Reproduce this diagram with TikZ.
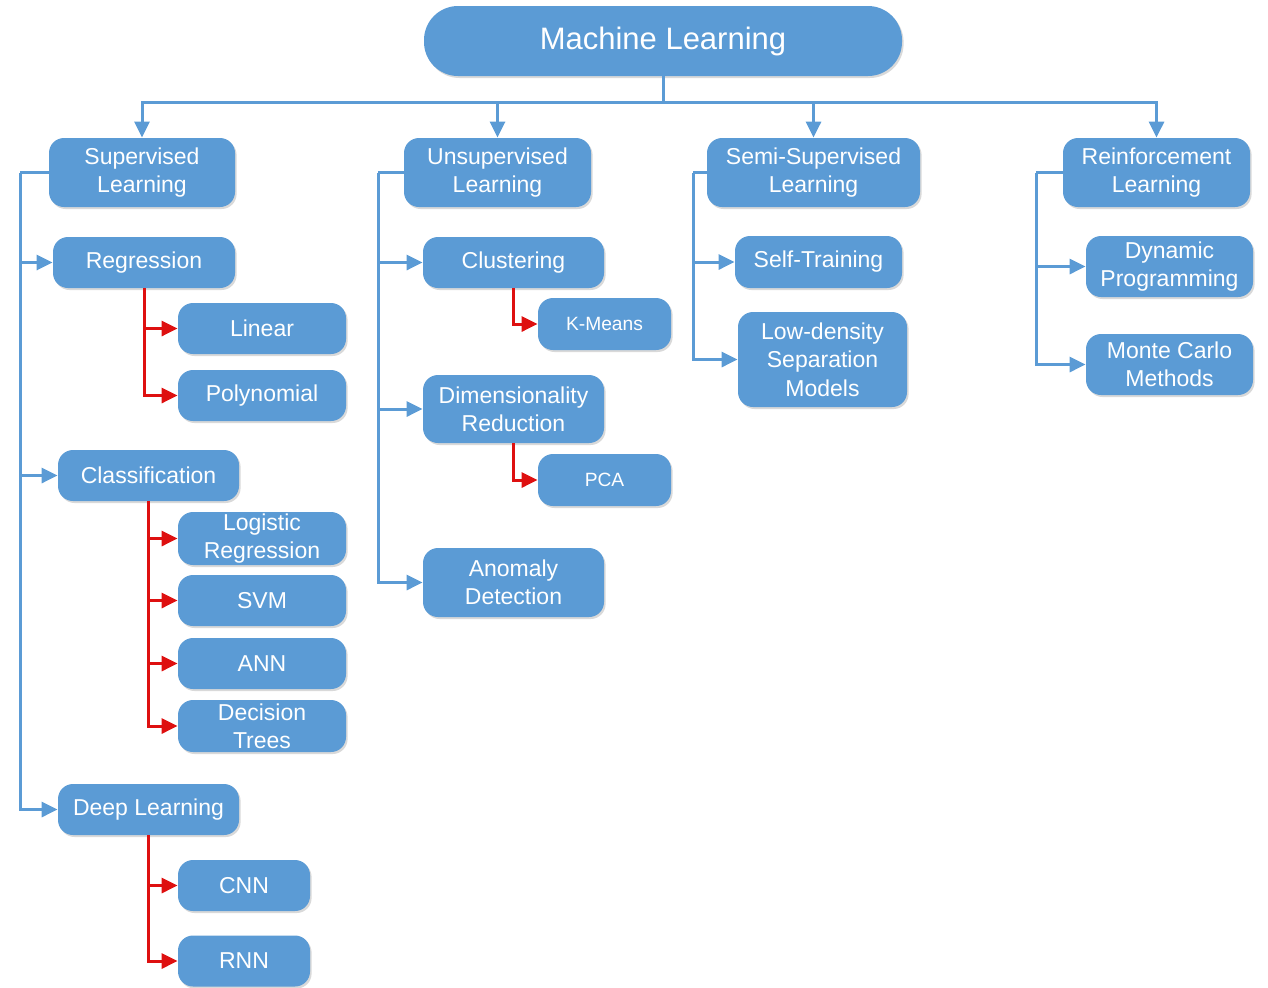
\documentclass[tikz,border=0pt]{standalone}
\usepackage{fontspec}
\setmainfont{Liberation Sans}
\usetikzlibrary{arrows.meta,shadows}
\definecolor{mlblue}{RGB}{91,155,213}
\definecolor{mlred}{RGB}{222,16,16}

\begin{document}
\begin{tikzpicture}[x=0.5pt, y=-0.5pt,
  box/.style={fill=mlblue, text=white, rounded corners=7.5pt, inner sep=0pt, align=center,
    font=\fontsize{11.5}{14.2}\selectfont,
    drop shadow={shadow xshift=0.8pt, shadow yshift=-1pt, opacity=0.25, fill=black!60}},
  wh/.style 2 args={minimum width=#1pt, minimum height=#2pt},
  small/.style={font=\fontsize{9.6}{12}\selectfont},
  bline/.style={draw=mlblue, line width=1.5pt},
  barrow/.style={bline, -{Triangle[length=8pt, width=7.5pt]}},
  rarrow/.style={draw=mlred, line width=1.5pt, -{Triangle[length=8pt, width=7.5pt]}}]
\useasboundingbox (0,0) rectangle (1268,987);

\node[box, wh={239}{35}, rounded corners=17pt, font=\fontsize{15.5}{18}\selectfont] (ml) at (663,41) {Machine Learning};

\node[box, wh={93}{34.5}] (sup) at (142,172.5) {Supervised\\Learning};
\node[box, wh={93.5}{34.5}] (unsup) at (497.5,172.5) {Unsupervised\\Learning};
\node[box, wh={106.5}{34.5}] (semi) at (813.5,172.5) {Semi-Supervised\\Learning};
\node[box, wh={93.5}{34.5}] (rein) at (1156.5,172.5) {Reinforcement\\Learning};

\node[box, wh={91}{25.5}] (regr) at (144,262.5) {Regression};
\node[box, wh={84}{25.5}] (lin) at (262,328.5) {Linear};
\node[box, wh={84}{25.5}] (poly) at (262,395.5) {Polynomial};
\node[box, wh={90.5}{25.5}] (clas) at (148.5,475.5) {Classification};
\node[box, wh={84}{26.5}] (logr) at (262,538.5) {Logistic\\Regression};
\node[box, wh={84}{25.5}] (svm) at (262,600.5) {SVM};
\node[box, wh={84}{25.5}] (ann) at (262,663.5) {ANN};
\node[box, wh={84}{26}] (dtree) at (262,726) {Decision\\Trees};
\node[box, wh={90.5}{25.5}] (deep) at (148.5,809.5) {Deep Learning};
\node[box, wh={66}{25.5}] (cnn) at (244,885.5) {CNN};
\node[box, wh={66}{25.5}] (rnn) at (244,961) {RNN};

\node[box, wh={90.5}{25.5}] (clus) at (513.5,262.5) {Clustering};
\node[box, small, wh={66.5}{26}] (kmeans) at (604.5,324) {K-Means};
\node[box, wh={90.5}{34}] (dimred) at (513.5,409) {Dimensionality\\Reduction};
\node[box, small, wh={66.5}{26}] (pca) at (604.5,480) {PCA};
\node[box, wh={90.5}{34.5}] (anom) at (513.5,582.5) {Anomaly\\Detection};

\node[box, wh={83.5}{26}] (self) at (818.5,262) {Self-Training};
\node[box, wh={84.5}{47.5}] (lowd) at (822.5,359.5) {Low-density\\Separation\\Models};

\node[box, wh={83.5}{30.5}] (dynp) at (1169.5,266.5) {Dynamic\\Programming};
\node[box, wh={83.5}{30.5}] (mcm) at (1169.5,364.5) {Monte Carlo\\Methods};

\coordinate (bus) at (663,102);
\coordinate (strunk) at (20,172.5);
\coordinate (utrunk) at (378,172.5);
\coordinate (mtrunk) at (693,172.5);
\coordinate (rtrunk) at (1036,172.5);

\draw[bline] (ml) -- (bus);
\foreach \n in {sup,unsup,semi,rein}
  \draw[barrow] (bus) -| (\n);

\draw[bline] (sup) -- (strunk);
\foreach \n in {regr,clas,deep}
  \draw[barrow] (strunk) |- (\n);
\draw[bline] (unsup) -- (utrunk);
\foreach \n in {clus,dimred,anom}
  \draw[barrow] (utrunk) |- (\n);
\draw[bline] (semi) -- (mtrunk);
\foreach \n in {self,lowd}
  \draw[barrow] (mtrunk) |- (\n);
\draw[bline] (rein) -- (rtrunk);
\foreach \n in {dynp,mcm}
  \draw[barrow] (rtrunk) |- (\n);

\foreach \n in {lin,poly}
  \draw[rarrow] (regr) |- (\n);
\foreach \n in {logr,svm,ann,dtree}
  \draw[rarrow] (clas) |- (\n);
\foreach \n in {cnn,rnn}
  \draw[rarrow] (deep) |- (\n);
\draw[rarrow] (clus) |- (kmeans);
\draw[rarrow] (dimred) |- (pca);
\end{tikzpicture}
\end{document}
